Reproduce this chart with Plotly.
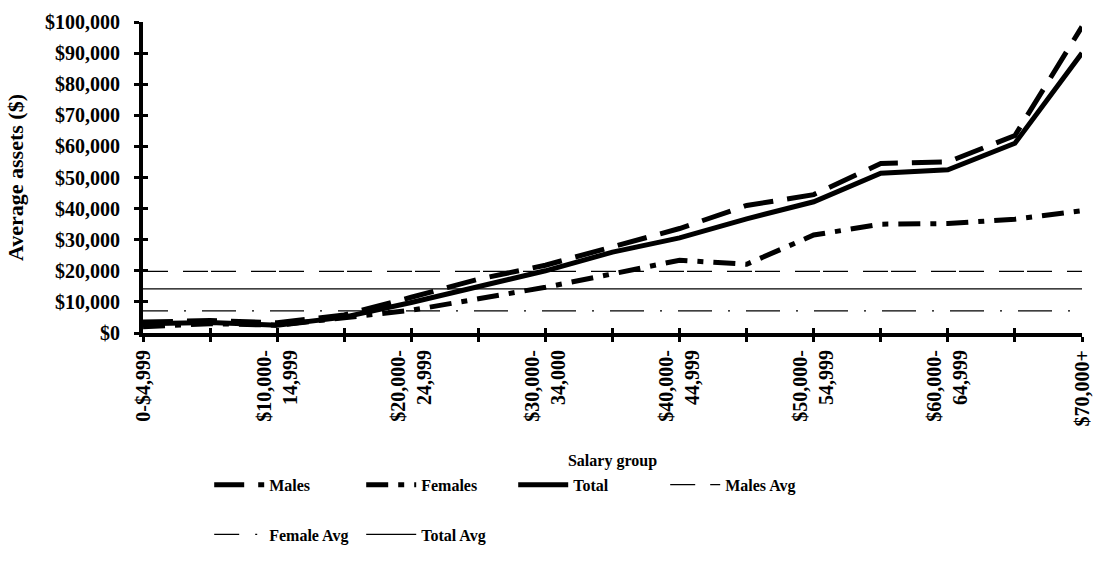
import plotly.graph_objects as go

categories = ["0-$4,999", "$5,000-9,999", "$10,000-14,999", "$15,000-19,999",
              "$20,000-24,999", "$25,000-29,999", "$30,000-34,000", "$35,000-39,999",
              "$40,000-44,999", "$45,000-49,999", "$50,000-54,999", "$55,000-59,999",
              "$60,000-64,999", "$65,000-69,999", "$70,000+"]
tick_labels = ["0-$4,999", "", "$10,000-<br>14,999", "", "$20,000-<br>24,999", "",
               "$30,000-<br>34,000", "", "$40,000-<br>44,999", "", "$50,000-<br>54,999", "",
               "$60,000-<br>64,999", "", "$70,000+"]
males = [3500, 4000, 3300, 5800, 11500, 17300, 21800, 27800, 33600, 41000, 44500, 54500, 55000, 63500, 98500]
females = [2000, 3000, 2500, 4800, 7300, 11000, 14700, 19000, 23400, 22100, 31500, 35000, 35200, 36600, 39300]
total = [3000, 3400, 2500, 5100, 9800, 14700, 20000, 26000, 30600, 36700, 42200, 51400, 52500, 61000, 90000]
males_avg = 19800
female_avg = 7100
total_avg = 14200
y_ticks = list(range(0, 100001, 10000))

FONT = "Liberation Serif, Times New Roman, serif"
n = len(categories)

fig = go.Figure()

def add(name, y, width, dash, legend):
    fig.add_trace(go.Scatter(x=categories, y=y, name=name, mode="lines",
                             line=dict(color="black", width=width, dash=dash),
                             legend=legend, cliponaxis=False, hoverinfo="skip"))

add("Males", males, 5, "30px,14px", "legend")
add("Females", females, 5, "22px,10px,6px,10px", "legend")
add("Total", total, 5, "solid", "legend")
add("Males Avg", [males_avg] * n, 1.2, "25px,15px,25px,3px", "legend")
add("Female Avg", [female_avg] * n, 1.2, "25px,16px,2px,16px,9px,0px", "legend2")
add("Total Avg", [total_avg] * n, 1.2, "solid", "legend2")

# dummy trace for inner half of cross ticks
fig.add_trace(go.Scatter(x=[0], y=[0], xaxis="x2", yaxis="y2", mode="markers",
                         marker=dict(opacity=0), showlegend=False, hoverinfo="skip"))

tick_font = dict(family=FONT, size=20, color="black", weight="bold")
leg_font = dict(family=FONT, size=16, color="black", weight="bold")

fig.update_layout(
    width=1104, height=572,
    margin=dict(l=143, r=11, t=17, b=239),
    paper_bgcolor="white", plot_bgcolor="white",
    showlegend=True,
    xaxis=dict(type="category", range=[0, n - 1], tickmode="array",
               tickvals=categories, ticktext=tick_labels, tickangle=-90,
               showline=True, linecolor="black", linewidth=4,
               ticks="outside", ticklen=5, tickwidth=3, tickcolor="black",
               showgrid=False, zeroline=False, tickfont=tick_font,
               ticklabelstandoff=0,
               title=dict(text="Salary group", standoff=30,
                          font=dict(family=FONT, size=16, color="black", weight="bold"))),
    yaxis=dict(range=[0, 100000], tickmode="array", tickvals=y_ticks,
               tickformat="$,", showline=True, linecolor="black", linewidth=4,
               ticks="outside", ticklen=5, tickwidth=3, tickcolor="black",
               showgrid=False, zeroline=False, tickfont=tick_font,
               ticklabelstandoff=10,
               title=dict(text="Average assets ($)", standoff=16,
                          font=dict(family=FONT, size=22, color="black", weight="bold"))),
    xaxis2=dict(overlaying="x", anchor="y2", range=[0, n - 1], tickmode="array",
                tickvals=list(range(n)), ticks="inside", ticklen=5, tickwidth=3,
                tickcolor="black", showticklabels=False, showgrid=False,
                zeroline=False, showline=False),
    yaxis2=dict(overlaying="y", anchor="x2", range=[0, 100000], tickmode="array",
                tickvals=y_ticks, ticks="inside", ticklen=5, tickwidth=3,
                tickcolor="black", showticklabels=False, showgrid=False,
                zeroline=False, showline=False),
    legend=dict(orientation="h", x=0.0705, y=-0.488, xanchor="left", yanchor="middle",
                itemwidth=50, entrywidth=87, font=leg_font, bgcolor="rgba(0,0,0,0)",
                traceorder="normal"),
    legend2=dict(orientation="h", x=0.0705, y=-0.648, xanchor="left", yanchor="middle",
                 itemwidth=50, entrywidth=87, font=leg_font, bgcolor="rgba(0,0,0,0)",
                 traceorder="normal"),
)

fig.write_html("out.html")
